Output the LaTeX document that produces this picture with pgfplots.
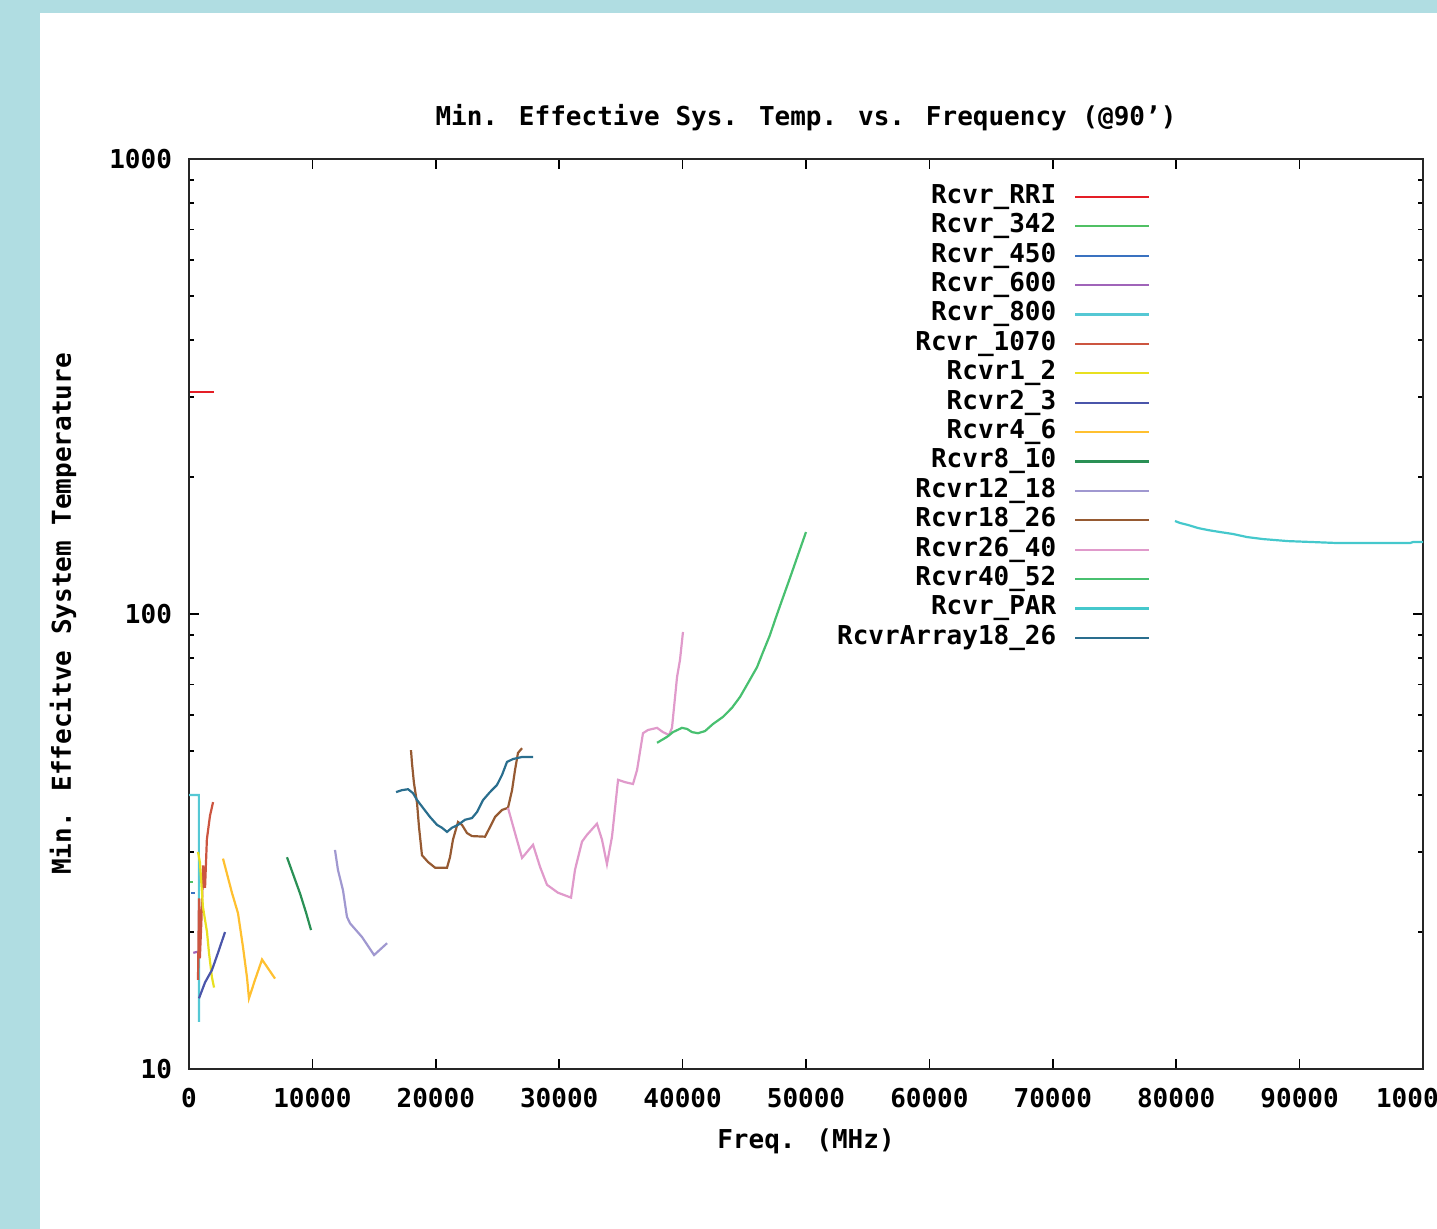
\documentclass[border=0pt]{standalone}
\usepackage{pgfplots}
\pgfplotsset{compat=1.18}
\usepackage{fontspec}
\setmainfont{DejaVu Sans Mono}
\definecolor{bgblue}{RGB}{176,221,226}
\definecolor{cRRI}{RGB}{228,30,38}
\definecolor{cA}{RGB}{80,192,100}
\definecolor{cB}{RGB}{58,114,192}
\definecolor{cC}{RGB}{160,100,185}
\definecolor{cD}{RGB}{85,200,212}
\definecolor{cE}{RGB}{204,85,64}
\definecolor{cF}{RGB}{232,224,32}
\definecolor{cG}{RGB}{74,85,170}
\definecolor{cH}{RGB}{255,192,48}
\definecolor{cI}{RGB}{42,144,85}
\definecolor{cJ}{RGB}{160,152,208}
\definecolor{cK}{RGB}{150,90,50}
\definecolor{cL}{RGB}{224,154,203}
\definecolor{cM}{RGB}{72,192,112}
\definecolor{cN}{RGB}{69,200,204}
\definecolor{cO}{RGB}{42,110,142}
\begin{document}
\begin{tikzpicture}[font=\fontsize{13}{15}\selectfont\bfseries]
\fill[bgblue] (0,0) rectangle (20pt,614.5pt);
\fill[bgblue] (0,608pt) rectangle (718.5pt,614.5pt);
\begin{axis}[
  at={(94.5pt,80pt)}, anchor=south west,
  scale only axis, width=617pt, height=455pt,
  xmin=0, xmax=100000, ymode=log, ymin=10, ymax=1000,
  scaled x ticks=false,
  xtick={0,10000,20000,30000,40000,50000,60000,70000,80000,90000,100000},
  xticklabels={0,10000,20000,30000,40000,50000,60000,70000,80000,90000,100000},
  ytick={10,100,1000}, yticklabels={10,100,1000},
  minor ytick={20,30,40,50,60,70,80,90,200,300,400,500,600,700,800,900},
  /pgf/number format/assume math mode=true,
  major tick length=5pt, minor tick length=2.5pt,
  tick style={black, line width=0.8pt},
  axis line style={line width=1pt, black!85},
  yticklabel style={xshift=-5pt},
  xticklabel style={yshift=-6pt},
  title={Min. Effective Sys. Temp. vs. Frequency (@90')},
  title style={anchor=center, at={(axis description cs:0.5,1)}, yshift=14.5pt},
  xlabel={Freq. (MHz)},
  xlabel style={anchor=center, at={(axis description cs:0.5,0)}, yshift=-36pt},
  ylabel={Min. Effecitve System Temperature},
  ylabel style={anchor=center, at={(axis description cs:0,0.5)}, yshift=63pt},
  every axis plot/.append style={line width=1.1pt},
  legend image code/.code={\draw[#1] (0pt,0pt) -- (37pt,0pt);},
  legend plot pos=right, legend cell align=right,
  legend style={at={(axis description cs:0.7795,0.9725)}, anchor=north east,
    draw=none, fill=none, inner sep=0pt, row sep=2.2pt, column sep=9pt,
    nodes={inner sep=0pt, text height=9.5pt, text depth=3pt}},
]
\addplot[cRRI] coordinates {(100,307) (2000,307)};
\addlegendentry{Rcvr\_RRI}
\addplot[cA] coordinates {(50,25.8) (350,25.8)};
\addlegendentry{Rcvr\_342}
\addplot[cB] coordinates {(200,24.4) (500,24.4)};
\addlegendentry{Rcvr\_450}
\addplot[cC] coordinates {(350,18.0) (700,18.1)};
\addlegendentry{Rcvr\_600}
\addplot[cD] coordinates {(10,40) (780,40) (800,40) (805,12.7)};
\addlegendentry{Rcvr\_800}
\addplot[cE] coordinates {(730,15.7) (810,23.7) (880,17.5) (1000,21) (1150,28) (1300,25) (1450,32) (1700,36) (1950,38.6)};
\addlegendentry{Rcvr\_1070}
\addplot[cF] coordinates {(730,30.0) (890,28.4) (1130,22.7) (1460,20.0) (1620,18.0) (1860,15.9) (2030,15.1)};
\addlegendentry{Rcvr1\_2}
\addplot[cG] coordinates {(810,14.3) (1300,15.5) (1860,16.5) (2350,18.0) (2920,20.0)};
\addlegendentry{Rcvr2\_3}
\addplot[cH] coordinates {(2755,29.0) (3480,24.4) (3970,22.0) (4380,18.5) (4700,15.9) (4860,14.3) (5350,15.7) (5920,17.4) (6970,15.8)};
\addlegendentry{Rcvr4\_6}
\addplot[cI] coordinates {(7940,29.2) (8500,26.5) (9000,24.3) (9500,22.0) (9890,20.2)};
\addlegendentry{Rcvr8\_10}
\addplot[cJ] coordinates {(11830,30.3) (12070,27.4) (12480,24.7) (12800,21.6) (13050,20.9) (14020,19.5) (15000,17.8) (16050,18.9)};
\addlegendentry{Rcvr12\_18}
\addplot[cK] coordinates {(17990,50.2) (18070,47.0) (18230,42.5) (18480,38.4) (18640,34.0) (18880,29.5) (19370,28.5) (19940,27.7) (20910,27.7) (21150,29.2) (21390,31.9) (21800,34.9) (22120,34.4) (22530,33.0) (22930,32.5) (23990,32.4) (24390,34.0) (24800,35.8) (25370,37.1) (25850,37.5) (26180,41.0) (26420,45.4) (26660,49.5) (26990,50.7)};
\addlegendentry{Rcvr18\_26}
\addplot[cL] coordinates {(25850,37.5) (26420,33.0) (26990,29.1) (27880,31.1) (28450,27.8) (29010,25.4) (29900,24.4) (30960,23.8) (31280,27.4) (31850,31.6) (32250,32.7) (33060,34.6) (33470,31.9) (33870,28.2) (34280,32.4) (34770,43.2) (35330,42.7) (35980,42.3) (36310,45.4) (36790,54.7) (37200,55.6) (37930,56.2) (38410,55.0) (38900,54.2) (39140,56.2) (39550,72.7) (39790,79.3) (40030,91.3)};
\addlegendentry{Rcvr26\_40}
\addplot[cM] coordinates {(37930,52.1) (38740,53.7) (39220,55.0) (39950,56.2) (40360,55.9) (40760,55.0) (41250,54.7) (41820,55.3) (42460,57.3) (43270,59.4) (44000,62.2) (44650,65.7) (45300,70.5) (46030,76.4) (46520,82.5) (47080,89.9) (47490,97.0) (48060,107.3) (48700,120.0) (49350,134.8) (50000,151.4)};
\addlegendentry{Rcvr40\_52}
\addplot[cN] coordinates {(79900,160.1) (80310,158.5) (80960,156.9) (81770,154.5) (82580,152.9) (83550,151.4) (84600,149.9) (85740,147.6) (87030,146.1) (89060,144.6) (91090,143.9) (93030,143.2) (96760,143.2) (98950,143.2) (99190,143.9) (100000,143.9)};
\addlegendentry{Rcvr\_PAR}
\addplot[cO] coordinates {(16780,40.6) (17260,41.0) (17750,41.2) (18150,40.4) (18480,39.0) (18960,37.5) (19530,35.8) (20100,34.4) (20500,33.9) (20910,33.2) (21310,33.9) (21800,34.4) (22370,35.3) (22930,35.6) (23340,36.7) (23830,39.0) (24390,40.6) (24960,42.1) (25370,44.3) (25770,47.3) (26260,48.0) (26990,48.5) (27880,48.5)};
\addlegendentry{RcvrArray18\_26}
\end{axis}
\pgfresetboundingbox
\path[use as bounding box] (0,0) rectangle (718.5pt,614.5pt);
\end{tikzpicture}
\end{document}
